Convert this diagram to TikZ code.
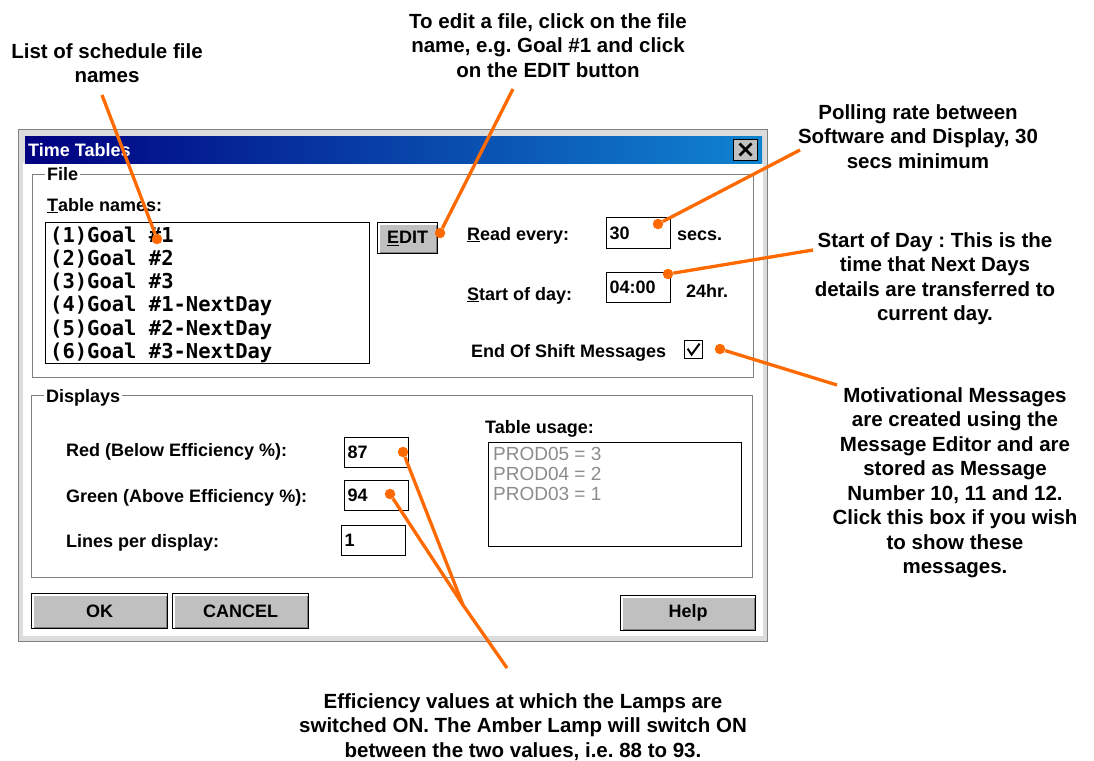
\documentclass[tikz,border=0pt]{standalone}
\usepackage{fontspec}
\setmainfont{Liberation Sans}
\newfontfamily\boxmono{DejaVu Sans Mono}
\usepackage{tikz}
\usetikzlibrary{positioning}
\definecolor{leadorange}{HTML}{FF6A00}
\definecolor{wingray}{HTML}{C0C0C0}
\definecolor{winshadow}{HTML}{808080}
\definecolor{titlenavy}{HTML}{000080}
\definecolor{titleblue}{HTML}{1084D0}
\definecolor{greytext}{HTML}{8C8C8C}
\newcommand{\notefont}{\fontsize{20.5}{24.5}\selectfont\bfseries}
\newcommand{\dlgfont}{\fontsize{18}{20}\selectfont\bfseries}
\frenchspacing

\begin{document}
\begin{tikzpicture}[
  x=1pt, y=-1pt,
  note/.style={font=\notefont, align=center, anchor=north, inner sep=0pt},
  lead/.style={draw=leadorange, line width=3.3pt, line join=round},
  dot/.style={circle, fill=leadorange, inner sep=0pt, minimum size=10.5pt},
  lbl/.style={font=\dlgfont, anchor=base west, inner sep=0pt},
  field/.style={draw=black, fill=white, line width=1.2pt, anchor=north west,
                font=\dlgfont, align=left, inner xsep=3pt, inner ysep=0pt},
  button/.style={draw=black, line width=1.4pt, fill=wingray, anchor=north west,
                 font=\dlgfont, inner sep=0pt,
                 path picture={
                   \draw[winshadow, line width=4pt] (path picture bounding box.south west) -| (path picture bounding box.north east);
                   \draw[white, line width=4pt] (path picture bounding box.south west) |- (path picture bounding box.north east);}},
  groupbox/.style={draw=winshadow, line width=1pt, anchor=north west, inner sep=0pt},
  grouplabel/.style={font=\dlgfont, fill=white, anchor=base west, inner xsep=2pt, inner ysep=1pt},
]
  \useasboundingbox (0,0) rectangle (1094,760);

  % dialog window
  \node[draw=winshadow, fill=wingray!55, line width=1pt, anchor=north west, inner sep=0pt,
        minimum width=749, minimum height=512] (dialog) at (18,129) {};
  \node[fill=white, anchor=north west, inner sep=0pt, minimum width=740, minimum height=473] (client) at (23,163) {};
  \node[left color=titlenavy, right color=titleblue, anchor=north west, inner sep=0pt,
        minimum width=737, minimum height=27] (titlebar) at (25,136) {};
  \node[font=\dlgfont, text=white, anchor=base west, inner sep=0pt] (title) at (28,156) {Time Tables};
  \node[draw=black, line width=1pt, fill=wingray, anchor=north west, inner sep=0pt,
        minimum width=24, minimum height=21,
        path picture={\draw[line width=2.5pt] ([shift={(6,4)}]path picture bounding box.north west) -- ++(12,12);
                      \draw[line width=2.5pt] ([shift={(18,4)}]path picture bounding box.north west) -- ++(-12,12);}]
        (closebtn) at (733,139) {};

  % File group
  \node[groupbox, minimum width=721, minimum height=203] (filegroup) at (32,174) {};
  \node[grouplabel] (filelabel) at (45,180) {File};
  \node[lbl] (tablenames) at (47,211) {\underline{T}able names:};
  \node[field, minimum width=324, minimum height=141] (filelist) at (45,222) {};
  \node[anchor=north west, inner sep=0pt, align=left,
        font=\boxmono\fontsize{20.5}{23.2}\selectfont\bfseries] (fileitems) at (50,226.5)
    {(1)Goal \#1\\(2)Goal \#2\\(3)Goal \#3\\(4)Goal \#1-NextDay\\(5)Goal \#2-NextDay\\(6)Goal \#3-NextDay};
  \node[button, minimum width=60, minimum height=31] (editbtn) at (377,222) {\underline{E}DIT};
  \node[lbl] (readlabel) at (467,240) {\underline{R}ead every:};
  \node[field, text width=58, minimum height=31] (readbox) at (606,217) {30};
  \node[lbl] (secs) at (677,240) {secs.};
  \node[lbl] (daylabel) at (467,300) {\underline{S}tart of day:};
  \node[field, text width=58, minimum height=30] (daybox) at (606,272) {04:00};
  \node[lbl] (hours) at (686,297) {24hr.};
  \node[lbl] (shiftlabel) at (471,357) {End Of Shift Messages};
  \node[draw=black, fill=white, line width=1.2pt, anchor=north west, inner sep=0pt,
        minimum width=18, minimum height=18,
        path picture={\draw[line width=2pt] ([shift={(3,8)}]path picture bounding box.north west) -- ++(4,6) -- ++(8,-11);}]
        (shiftbox) at (684,340) {};

  % Displays group
  \node[groupbox, minimum width=721, minimum height=182] (dispgroup) at (31,395) {};
  \node[grouplabel] (displabel) at (44,402) {Displays};
  \node[lbl] (redlabel) at (66,456) {Red (Below Efficiency \%):};
  \node[field, text width=58, minimum height=30] (redbox) at (344,437) {87};
  \node[lbl] (greenlabel) at (66,502) {Green (Above Efficiency \%):};
  \node[field, text width=58, minimum height=30] (greenbox) at (344,480) {94};
  \node[lbl] (lineslabel) at (66,547) {Lines per display:};
  \node[field, text width=58, minimum height=30] (linesbox) at (341,525) {1};
  \node[lbl] (usagelabel) at (485,433) {Table usage:};
  \node[field, minimum width=253, minimum height=104] (usagelist) at (488,442) {};
  \node[anchor=north west, inner sep=0pt, align=left, text=greytext,
        font=\fontsize{19}{20}\selectfont] (usageitems) at (493,447.5)
    {PROD05 = 3\\PROD04 = 2\\PROD03 = 1};

  % buttons
  \node[button, minimum width=136, minimum height=35] (okbtn) at (31,593) {OK};
  \node[button, minimum width=136, minimum height=35] (cancelbtn) at (172,593) {CANCEL};
  \node[button, minimum width=135, minimum height=35] (helpbtn) at (620,595) {Help};

  % notes
  \node[note] (listnote) at (107,43) {List of schedule file\\names};
  \node[note] (editnote) at (548,13) {To edit a file, click on the file\\name, e.g. Goal \#1 and click\\on the EDIT button};
  \node[note] (pollnote) at (918,104) {Polling rate between\\Software and Display, 30\\secs minimum};
  \node[note] (daynote) at (935,232) {Start of Day : This is the\\time that Next Days\\details are transferred to\\current day.};
  \node[note] (msgnote) at (955,387) {Motivational Messages\\are created using the\\Message Editor and are\\stored as Message\\Number 10, 11 and 12.\\Click this box if you wish\\to show these\\messages.};
  \node[note] (effnote) at (523,693) {Efficiency values at which the Lamps are\\switched ON. The Amber Lamp will switch ON\\between the two values, i.e. 88 to 93.};

  % leader lines
  \node[dot] (listdot) at (157,239) {};
  \node[dot] (editdot) at (440,233) {};
  \node[dot] (polldot) at (658,224) {};
  \node[dot] (daydot) at (668,274) {};
  \node[dot] (msgdot) at (720,349) {};
  \node[dot] (reddot) at (403,452) {};
  \node[dot] (greendot) at (390,494) {};
  \coordinate (listtip) at (102,95);
  \coordinate (edittip) at (513,89);
  \coordinate (polltip) at (800,150);
  \coordinate (daytip) at (813,250);
  \coordinate (msgtip) at (837,385);
  \coordinate (effjoin) at (463,605);
  \coordinate (efftip) at (507,668);
  \draw[lead] (listtip) -- (listdot);
  \draw[lead] (edittip) -- (editdot);
  \draw[lead] (polltip) -- (polldot);
  \draw[lead] (daytip) -- (daydot);
  \draw[lead] (msgtip) -- (msgdot);
  \draw[lead] (reddot) -- (effjoin) -- (efftip);
  \draw[lead] (greendot) -- (effjoin);
\end{tikzpicture}
\end{document}
